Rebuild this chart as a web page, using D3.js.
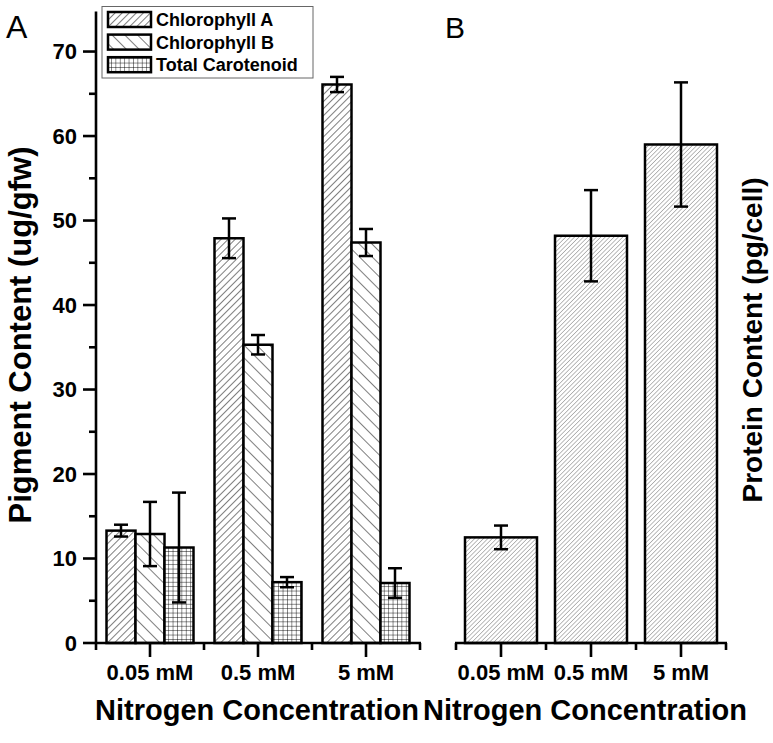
<!DOCTYPE html>
<html>
<head>
<meta charset="utf-8">
<script src="https://cdn.jsdelivr.net/npm/d3@7"></script>
<style>
  html, body { margin: 0; padding: 0; background: #fff; }
  svg { display: block; }
  text { font-family: "Liberation Sans", Arial, sans-serif; fill: #000; }
</style>
</head>
<body>
<svg id="chart" width="773" height="743"></svg>
<script>
// ---------------- data ----------------
const categories = ["0.05 mM", "0.5 mM", "5 mM"];
const seriesNames = ["Chlorophyll A", "Chlorophyll B", "Total Carotenoid"];
const chlA = [13.3, 47.9, 66.1];
const chlAErr = [0.7, 2.35, 0.9];
const chlB = [12.9, 35.3, 47.4];
const chlBErr = [3.8, 1.15, 1.6];
const carot = [11.3, 7.2, 7.1];
const carotErr = [6.5, 0.6, 1.75];
const protein = [12.5, 48.2, 59.0];
const proteinErr = [1.4, 5.4, 7.35];
const yTicks = [0, 10, 20, 30, 40, 50, 60, 70];
const yMinorTicks = [5, 15, 25, 35, 45, 55, 65];

const svg = d3.select("#chart");
const defs = svg.append("defs");

// hatch patterns
function hatch(id, spacing, angle, color, width) {
  const p = defs.append("pattern").attr("id", id)
    .attr("patternUnits", "userSpaceOnUse")
    .attr("width", spacing).attr("height", spacing)
    .attr("patternTransform", `rotate(${angle})`);
  p.append("rect").attr("width", spacing).attr("height", spacing).attr("fill", "#fff");
  p.append("line").attr("x1", 0).attr("y1", -1).attr("x2", 0).attr("y2", spacing + 1)
    .attr("stroke", color).attr("stroke-width", width);
}
hatch("patA", 5, 45, "#000", 1);
hatch("patB", 9, -45, "#000", 1);
hatch("patP", 3.1, 45, "#555", 0.8);
(function grid() {
  const s = 4.4;
  const p = defs.append("pattern").attr("id", "patC")
    .attr("patternUnits", "userSpaceOnUse").attr("width", s).attr("height", s)
    .attr("x", 1).attr("y", 1);
  p.append("rect").attr("width", s).attr("height", s).attr("fill", "#fff");
  p.append("line").attr("x1", 0).attr("y1", 0).attr("x2", s).attr("y2", 0).attr("stroke", "#000").attr("stroke-width", 0.9);
  p.append("line").attr("x1", 0).attr("y1", 0).attr("x2", 0).attr("y2", s).attr("stroke", "#000").attr("stroke-width", 0.9);
})();
const fills = ["url(#patA)", "url(#patB)", "url(#patC)"];

// ---------------- scales ----------------
const y = d3.scaleLinear().domain([0, 75]).range([643, 9.3]);
const xA = d3.scaleBand().domain(categories).range([96, 420]).padding(0);
const xSub = d3.scaleBand().domain(seriesNames).range([10.5, 97.5]).padding(0);
const xB = d3.scaleBand().domain(categories).range([456, 726]).paddingInner(0.2).paddingOuter(0.1);
const xBfull = d3.scaleBand().domain(categories).range([456, 726]).padding(0);

const AX = 2.6; // axis stroke width

// ---------------- panel A bars ----------------
const seriesVals = [chlA, chlB, carot];
const seriesErr = [chlAErr, chlBErr, carotErr];
const gA = svg.append("g");
seriesNames.forEach((s, si) => {
  categories.forEach((c, ci) => {
    const v = seriesVals[si][ci];
    gA.append("rect")
      .attr("x", xA(c) + xSub(s))
      .attr("y", y(v))
      .attr("width", xSub.bandwidth())
      .attr("height", y(0) - y(v))
      .attr("fill", fills[si])
      .attr("stroke", "#000").attr("stroke-width", 2.5);
  });
});
// error bars
function errBar(g, cx, v, e, cap) {
  g.append("line").attr("x1", cx).attr("x2", cx).attr("y1", y(v + e)).attr("y2", y(v - e))
    .attr("stroke", "#000").attr("stroke-width", 2.5);
  [v + e, v - e].forEach(t => {
    g.append("line").attr("x1", cx - cap / 2).attr("x2", cx + cap / 2).attr("y1", y(t)).attr("y2", y(t))
      .attr("stroke", "#000").attr("stroke-width", 2.5);
  });
}
seriesNames.forEach((s, si) => {
  categories.forEach((c, ci) => {
    const cx = xA(c) + xSub(s) + xSub.bandwidth() / 2;
    errBar(gA, cx, seriesVals[si][ci], seriesErr[si][ci], 14);
  });
});

// ---------------- panel A axes ----------------
const yAxisG = svg.append("g").attr("transform", "translate(96,0)");
yAxisG.append("line").attr("x1", 0).attr("x2", 0).attr("y1", y(74.75)).attr("y2", y(0) + 1)
  .attr("stroke", "#000").attr("stroke-width", AX);
yAxisG.selectAll(".maj").data(yTicks).join("line")
  .attr("x1", -13).attr("x2", 0).attr("y1", d => y(d)).attr("y2", d => y(d))
  .attr("stroke", "#000").attr("stroke-width", AX);
yAxisG.selectAll(".min").data(yMinorTicks).join("line")
  .attr("x1", -7).attr("x2", 0).attr("y1", d => y(d)).attr("y2", d => y(d))
  .attr("stroke", "#000").attr("stroke-width", AX);
yAxisG.selectAll(".lab").data(yTicks).join("text")
  .attr("x", -19).attr("y", d => y(d)).attr("dy", "0.35em")
  .attr("text-anchor", "end").attr("font-size", 22).attr("font-weight", "bold")
  .text(d => d);

function xAxis(scale, yPos) {
  const g = svg.append("g");
  const r = scale.range();
  g.append("line").attr("x1", r[0] - 1).attr("x2", r[1] + 1).attr("y1", yPos).attr("y2", yPos)
    .attr("stroke", "#000").attr("stroke-width", AX);
  const bounds = scale.domain().map(d => scale(d)).concat([r[1]]);
  g.selectAll(".mn").data(bounds).join("line")
    .attr("x1", d => d).attr("x2", d => d).attr("y1", yPos).attr("y2", yPos + 7)
    .attr("stroke", "#000").attr("stroke-width", AX);
  g.selectAll(".mj").data(scale.domain()).join("line")
    .attr("x1", d => scale(d) + scale.bandwidth() / 2).attr("x2", d => scale(d) + scale.bandwidth() / 2)
    .attr("y1", yPos).attr("y2", yPos + 14)
    .attr("stroke", "#000").attr("stroke-width", AX);
  g.selectAll(".lb").data(scale.domain()).join("text")
    .attr("x", d => scale(d) + scale.bandwidth() / 2).attr("y", 680)
    .attr("text-anchor", "middle").attr("font-size", 22).attr("font-weight", "bold")
    .text(d => d);
}
xAxis(xA, 643);

// ---------------- panel B ----------------
const gB = svg.append("g");
categories.forEach((c, ci) => {
  gB.append("rect")
    .attr("x", xB(c)).attr("y", y(protein[ci]))
    .attr("width", xB.bandwidth()).attr("height", y(0) - y(protein[ci]))
    .attr("fill", "url(#patP)").attr("stroke", "#000").attr("stroke-width", 2.5);
});
categories.forEach((c, ci) => {
  errBar(gB, xB(c) + xB.bandwidth() / 2, protein[ci], proteinErr[ci], 14);
});
xAxis(xBfull, 643);

// ---------------- titles ----------------
svg.append("text").attr("x", 257).attr("y", 720).attr("text-anchor", "middle")
  .attr("font-size", 29).attr("font-weight", "bold").text("Nitrogen Concentration");
svg.append("text").attr("x", 585).attr("y", 720).attr("text-anchor", "middle")
  .attr("font-size", 29).attr("font-weight", "bold").text("Nitrogen Concentration");
svg.append("text").attr("transform", "translate(31,335) rotate(-90)").attr("text-anchor", "middle")
  .attr("font-size", 31).attr("font-weight", "bold").text("Pigment Content (ug/gfw)");
svg.append("text").attr("transform", "translate(762,340) rotate(-90)").attr("text-anchor", "middle")
  .attr("font-size", 28).attr("font-weight", "bold").text("Protein Content (pg/cell)");
svg.append("text").attr("x", 6).attr("y", 38).attr("font-size", 32).text("A");
svg.append("text").attr("x", 445).attr("y", 38).attr("font-size", 30).text("B");

// ---------------- legend ----------------
const lg = svg.append("g");
lg.append("rect").attr("x", 102).attr("y", 6.5).attr("width", 211).attr("height", 71.5)
  .attr("fill", "#fff").attr("stroke", "#666").attr("stroke-width", 1);
seriesNames.forEach((s, i) => {
  const yy = 12 + i * 22.6;
  lg.append("rect").attr("x", 108).attr("y", yy).attr("width", 43).attr("height", 15)
    .attr("fill", fills[i]).attr("stroke", "#000").attr("stroke-width", 2.5);
  lg.append("text").attr("x", 156).attr("y", yy + 14).attr("font-size", 18).attr("font-weight", "bold").text(s);
});
</script>
</body>
</html>
